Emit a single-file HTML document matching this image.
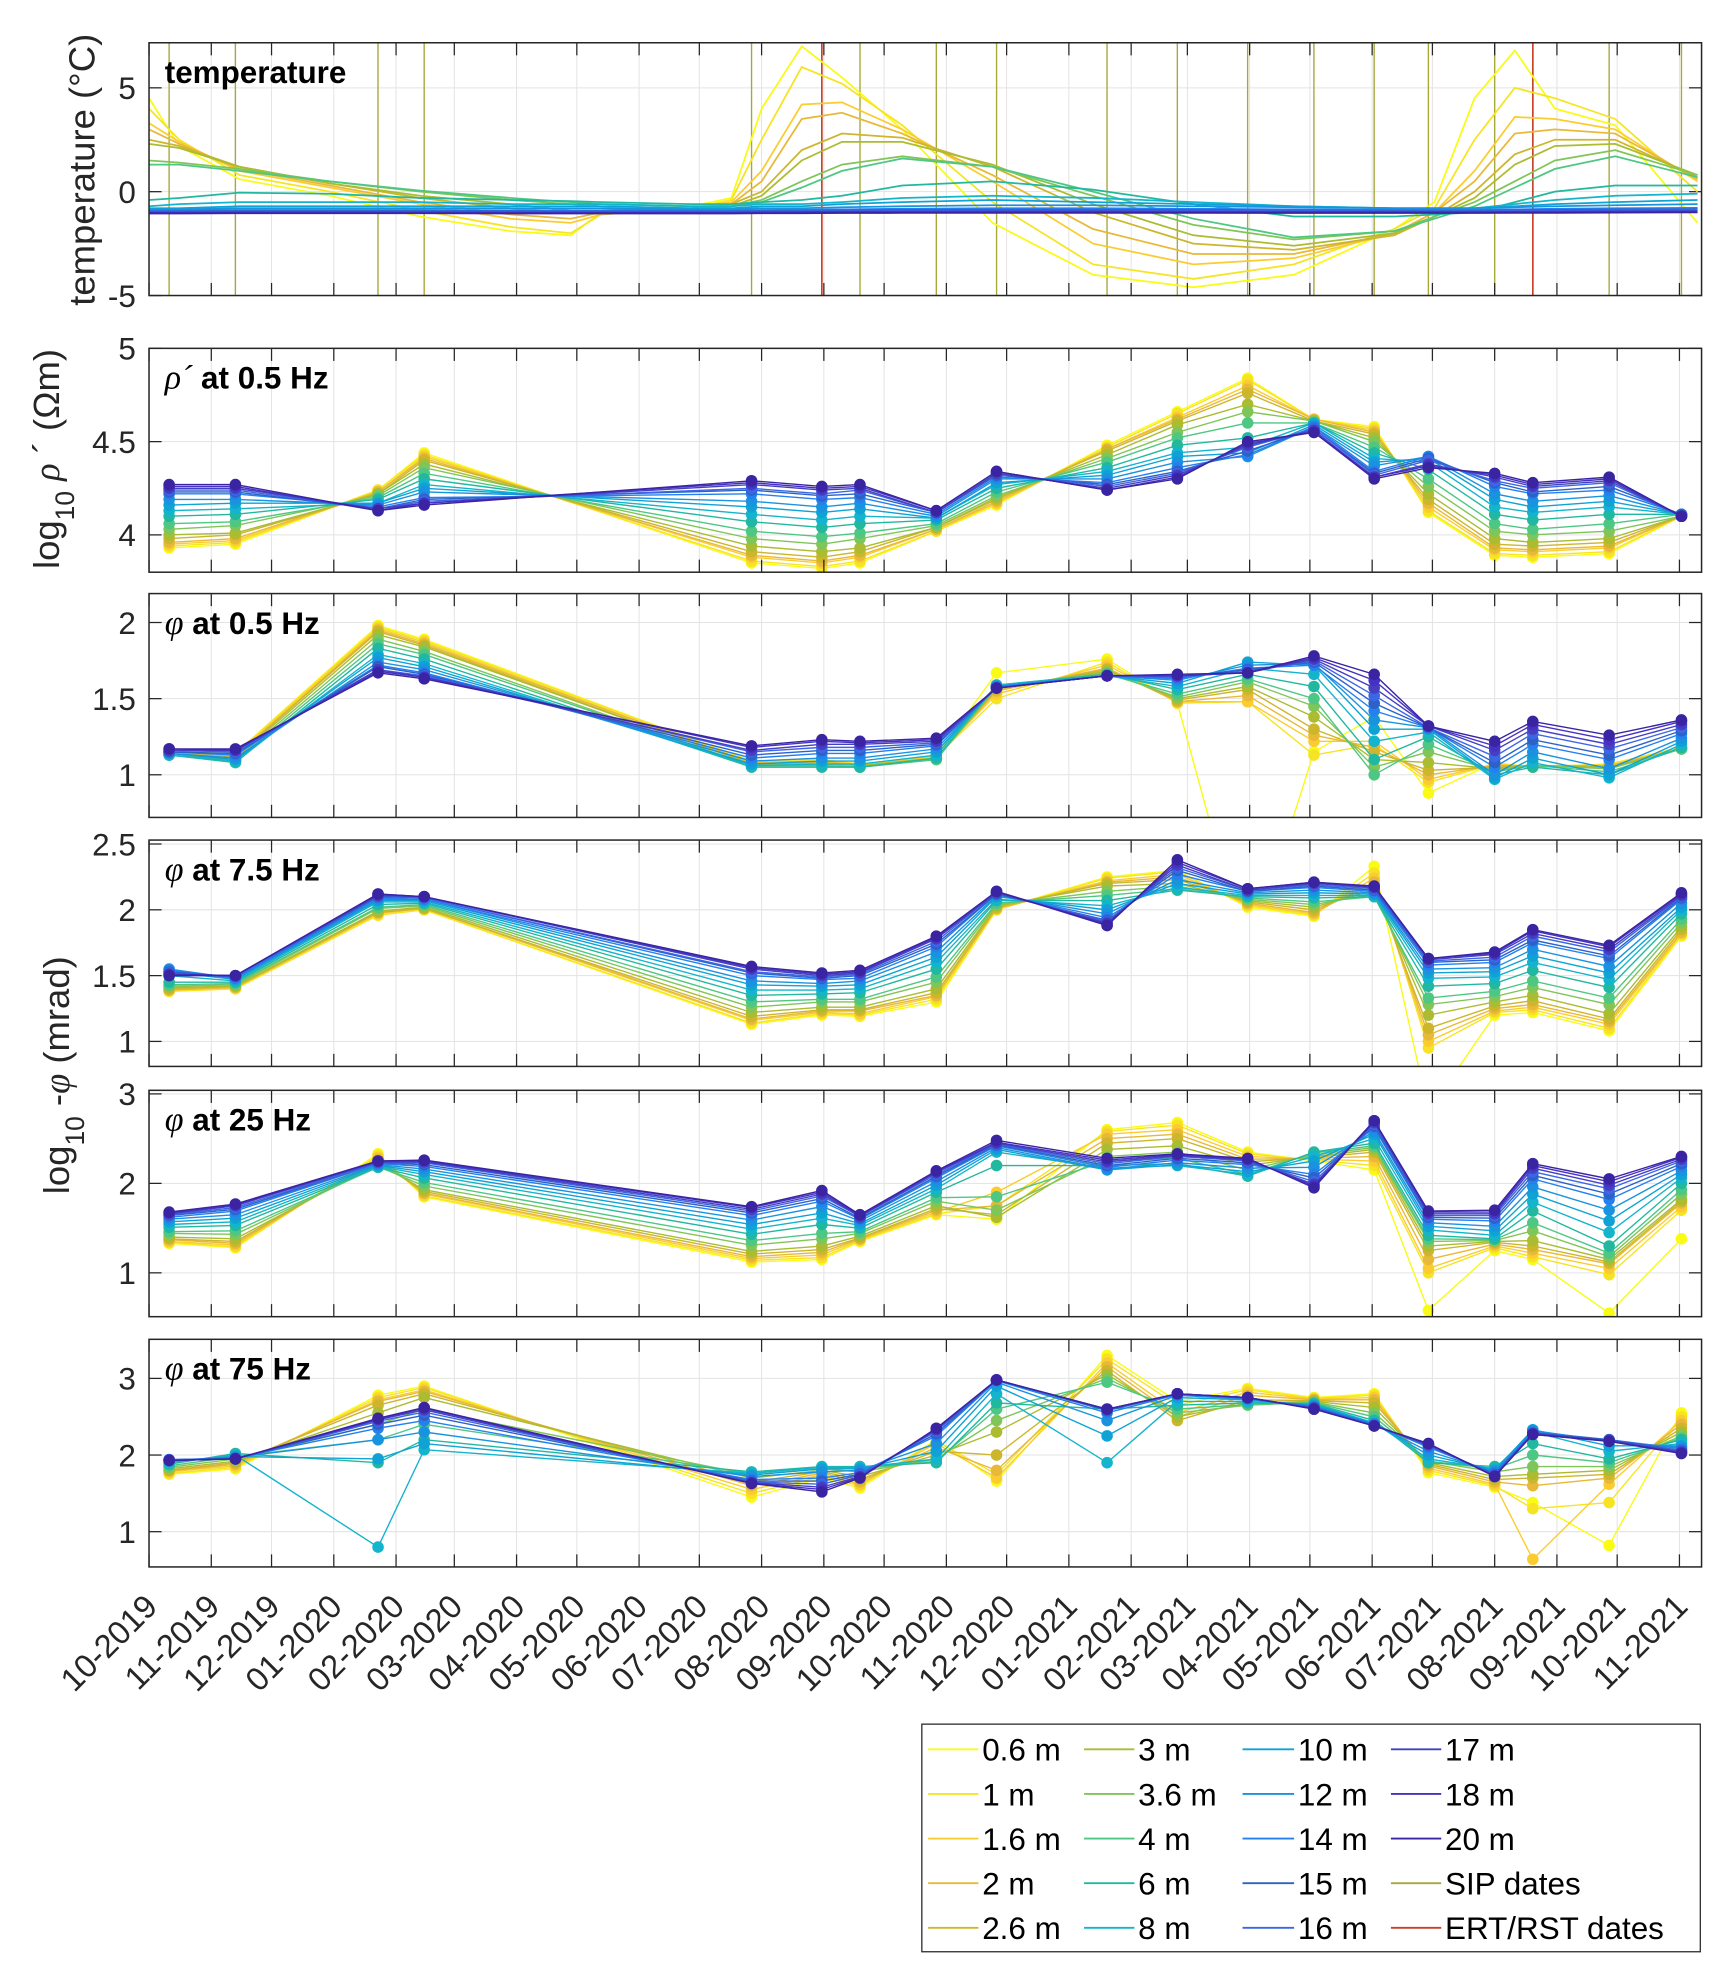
<!DOCTYPE html>
<html><head><meta charset="utf-8"><style>
html,body{margin:0;padding:0;background:#fff;}
svg{display:block;font-family:"Liberation Sans",Arial,sans-serif;}
</style></head><body>
<svg id="chart" xmlns="http://www.w3.org/2000/svg" width="1733" height="1971" viewBox="0 0 1378 1567.3" preserveAspectRatio="none"></svg>
<script>
// ---------- DATA ----------
const depthLabels=['0.6 m','1 m','1.6 m','2 m','2.6 m','3 m','3.6 m','4 m','6 m','8 m','10 m','12 m','14 m','15 m','16 m','17 m','18 m','20 m'];
const sipDates=['2019-10-11','2019-11-13','2020-01-23','2020-02-15','2020-07-27','2020-08-31','2020-09-19','2020-10-27','2020-11-26','2021-01-20','2021-02-24','2021-03-31','2021-05-03','2021-06-02','2021-06-29','2021-08-01','2021-08-20','2021-09-27','2021-11-02'];
const ertDates=['2020-08-31','2021-08-20'];
const monthLabels=['10-2019','11-2019','12-2019','01-2020','02-2020','03-2020','04-2020','05-2020','06-2020','07-2020','08-2020','09-2020','10-2020','11-2020','12-2020','01-2021','02-2021','03-2021','04-2021','05-2021','06-2021','07-2021','08-2021','09-2021','10-2021','11-2021'];
const tempDays=[0,15,45,90,135,180,210,225,270,290,305,325,345,375,420,470,520,570,620,640,660,680,700,730,771];
const tempVals=[
[4.5,2.2,0.6,-0.2,-1.2,-1.9,-2.1,-1.0,-0.7,-0.3,4.0,7.0,5.5,3.0,-1.5,-4.0,-4.6,-4.0,-1.8,-0.5,4.5,6.8,4.0,3.2,-1.5],
[4.0,2.5,0.8,0,-0.9,-1.7,-2.0,-1.1,-0.8,-0.4,2.5,6.0,5.2,3.2,-0.5,-3.5,-4.2,-3.5,-1.8,-0.8,2.5,5.0,4.5,3.5,0.0],
[3.3,2.4,1.0,0.2,-0.6,-1.3,-1.5,-1.1,-0.8,-0.5,1.0,4.2,4.3,3.0,0.5,-2.5,-3.5,-3.2,-2.0,-1.0,1.0,3.6,3.5,3.0,0.5],
[3.0,2.3,1.1,0.3,-0.5,-1.1,-1.3,-1.0,-0.8,-0.6,0.5,3.5,3.8,2.8,0.8,-1.8,-3.0,-3.0,-2.0,-1.0,0.5,2.8,3.0,2.8,0.6],
[2.5,2.2,1.2,0.4,-0.3,-0.8,-1.0,-0.9,-0.8,-0.6,0.0,2.0,2.8,2.6,1.2,-1.0,-2.5,-2.8,-2.1,-1.2,0.0,1.8,2.5,2.5,0.7],
[2.3,2.1,1.2,0.4,-0.2,-0.6,-0.9,-0.9,-0.8,-0.7,-0.2,1.5,2.4,2.4,1.3,-0.6,-2.1,-2.6,-2.0,-1.2,-0.3,1.3,2.2,2.3,0.8],
[1.5,1.4,1.1,0.5,0,-0.4,-0.6,-0.7,-0.8,-0.7,-0.4,0.5,1.3,1.7,1.2,-0.2,-1.6,-2.3,-1.9,-1.2,-0.5,0.5,1.5,2.0,0.8],
[1.3,1.3,1.0,0.5,0.05,-0.3,-0.5,-0.6,-0.7,-0.7,-0.5,0.2,1.0,1.6,1.2,0,-1.3,-2.2,-1.9,-1.3,-0.7,0.2,1.1,1.7,0.7],
[-0.4,-0.3,-0.05,-0.1,-0.3,-0.4,-0.45,-0.5,-0.6,-0.6,-0.5,-0.4,-0.2,0.3,0.5,0.1,-0.6,-1.2,-1.2,-1.1,-1.0,-0.5,0,0.3,0.3],
[-0.7,-0.6,-0.5,-0.5,-0.5,-0.6,-0.6,-0.6,-0.7,-0.7,-0.6,-0.6,-0.5,-0.3,-0.2,-0.3,-0.5,-0.7,-0.8,-0.8,-0.8,-0.6,-0.4,-0.2,-0.1],
[-0.8,-0.8,-0.7,-0.7,-0.7,-0.7,-0.7,-0.7,-0.8,-0.8,-0.7,-0.7,-0.6,-0.5,-0.4,-0.5,-0.6,-0.7,-0.8,-0.8,-0.8,-0.7,-0.6,-0.5,-0.4],
[-0.85,-0.85,-0.8,-0.8,-0.8,-0.8,-0.8,-0.8,-0.85,-0.85,-0.8,-0.8,-0.75,-0.7,-0.65,-0.65,-0.7,-0.75,-0.8,-0.8,-0.8,-0.75,-0.7,-0.65,-0.6],
[-0.9,-0.9,-0.88,-0.88,-0.88,-0.9,-0.9,-0.9,-0.9,-0.9,-0.88,-0.87,-0.85,-0.82,-0.8,-0.8,-0.82,-0.85,-0.87,-0.87,-0.87,-0.85,-0.82,-0.8,-0.78],
[-0.95,-0.95,-0.93,-0.93,-0.93,-0.94,-0.95,-0.95,-0.95,-0.95,-0.93,-0.92,-0.9,-0.88,-0.87,-0.87,-0.88,-0.9,-0.92,-0.92,-0.92,-0.9,-0.88,-0.86,-0.85],
[-0.97,-0.97,-0.96,-0.96,-0.96,-0.97,-0.97,-0.97,-0.97,-0.97,-0.96,-0.95,-0.94,-0.92,-0.91,-0.91,-0.92,-0.93,-0.95,-0.95,-0.95,-0.93,-0.92,-0.9,-0.89],
[-1.0,-1.0,-0.99,-0.99,-0.99,-1.0,-1.0,-1.0,-1.0,-1.0,-0.99,-0.98,-0.97,-0.96,-0.95,-0.95,-0.96,-0.97,-0.98,-0.98,-0.98,-0.97,-0.96,-0.95,-0.94],
[-1.02,-1.02,-1.01,-1.01,-1.01,-1.02,-1.02,-1.02,-1.02,-1.02,-1.01,-1.0,-1.0,-0.99,-0.98,-0.98,-0.99,-1.0,-1.0,-1.0,-1.0,-0.99,-0.99,-0.98,-0.97],
[-1.05,-1.05,-1.04,-1.04,-1.04,-1.05,-1.05,-1.05,-1.05,-1.05,-1.04,-1.04,-1.03,-1.02,-1.02,-1.02,-1.02,-1.03,-1.03,-1.03,-1.03,-1.02,-1.02,-1.01,-1.0]];
const rho05=[
[3.93,3.94,3.95,3.96,3.98,4.00,4.03,4.06,4.10,4.13,4.16,4.19,4.22,4.23,4.24,4.25,4.26,4.27],
[3.95,3.96,3.97,3.98,4.00,4.01,4.05,4.07,4.11,4.14,4.17,4.19,4.22,4.23,4.24,4.25,4.26,4.27],
[4.24,4.24,4.23,4.23,4.22,4.22,4.21,4.20,4.19,4.17,4.17,4.16,4.15,4.14,4.14,4.14,4.13,4.13],
[4.44,4.43,4.42,4.41,4.40,4.38,4.36,4.33,4.30,4.27,4.25,4.23,4.20,4.19,4.18,4.17,4.17,4.16],
[3.85,3.86,3.88,3.89,3.91,3.94,3.98,4.02,4.07,4.11,4.15,4.18,4.22,4.24,4.25,4.27,4.28,4.29],
[3.82,3.83,3.85,3.86,3.88,3.91,3.95,3.99,4.04,4.08,4.12,4.15,4.19,4.21,4.22,4.24,4.25,4.26],
[3.85,3.86,3.88,3.89,3.91,3.93,3.98,4.01,4.06,4.10,4.14,4.17,4.20,4.22,4.24,4.25,4.26,4.27],
[4.02,4.02,4.03,4.03,4.04,4.04,4.05,4.06,4.08,4.09,4.09,4.10,4.11,4.12,4.12,4.12,4.13,4.13],
[4.16,4.17,4.17,4.18,4.19,4.20,4.21,4.23,4.25,4.27,4.28,4.30,4.31,4.32,4.33,4.33,4.34,4.34],
[4.48,4.47,4.46,4.46,4.45,4.43,4.41,4.39,4.36,4.34,4.32,4.30,4.28,4.27,4.26,4.25,4.24,4.24],
[4.66,4.65,4.63,4.62,4.61,4.59,4.55,4.52,4.48,4.44,4.42,4.39,4.36,4.34,4.33,4.32,4.31,4.30],
[4.84,4.83,4.80,4.78,4.76,4.70,4.66,4.60,4.52,4.47,4.44,4.42,4.43,4.45,4.47,4.48,4.49,4.50],
[4.62,4.62,4.62,4.62,4.61,4.61,4.61,4.60,4.60,4.60,4.59,4.58,4.58,4.57,4.57,4.56,4.55,4.55],
[4.58,4.57,4.56,4.55,4.54,4.52,4.50,4.47,4.44,4.41,4.39,4.37,4.34,4.33,4.32,4.31,4.31,4.30],
[4.12,4.13,4.15,4.17,4.19,4.22,4.26,4.30,4.35,4.39,4.41,4.42,4.42,4.41,4.40,4.38,4.37,4.36],
[3.89,3.90,3.92,3.93,3.95,3.98,4.02,4.06,4.11,4.15,4.19,4.22,4.26,4.28,4.29,4.31,4.32,4.33],
[3.88,3.89,3.91,3.92,3.94,3.96,4.00,4.03,4.08,4.12,4.15,4.18,4.22,4.23,4.25,4.26,4.27,4.28],
[3.90,3.91,3.93,3.94,3.96,3.98,4.02,4.06,4.11,4.15,4.18,4.21,4.24,4.26,4.28,4.29,4.30,4.31],
[4.10,4.10,4.10,4.10,4.10,4.10,4.10,4.11,4.11,4.11,4.11,4.11,4.11,4.11,4.10,4.10,4.10,4.10]];
const phi05=[
[1.15,1.15,1.15,1.14,1.14,1.14,1.13,1.13,1.13,1.13,1.14,1.14,1.15,1.15,1.16,1.16,1.17,1.17],
[1.14,1.14,1.13,1.12,1.12,1.11,1.10,1.09,1.08,1.09,1.10,1.11,1.13,1.14,1.15,1.16,1.16,1.17],
[1.98,1.97,1.96,1.95,1.94,1.92,1.89,1.86,1.83,1.79,1.77,1.74,1.72,1.71,1.69,1.69,1.68,1.67],
[1.89,1.88,1.87,1.86,1.85,1.84,1.81,1.79,1.76,1.73,1.71,1.69,1.67,1.66,1.65,1.64,1.64,1.63],
[1.09,1.09,1.08,1.08,1.07,1.07,1.06,1.06,1.05,1.06,1.07,1.09,1.11,1.13,1.15,1.16,1.18,1.19],
[1.10,1.10,1.09,1.09,1.08,1.07,1.06,1.06,1.05,1.07,1.09,1.11,1.14,1.16,1.18,1.20,1.22,1.23],
[1.07,1.07,1.07,1.06,1.06,1.06,1.05,1.05,1.05,1.07,1.09,1.11,1.14,1.16,1.18,1.20,1.21,1.22],
[1.12,1.12,1.12,1.11,1.11,1.11,1.10,1.10,1.11,1.13,1.15,1.17,1.19,1.20,1.21,1.22,1.23,1.24],
[1.67,1.50,1.53,1.55,1.56,1.57,1.58,1.58,1.59,1.59,1.58,1.58,1.58,1.57,1.57,1.57,1.57,1.57],
[1.76,1.74,1.72,1.70,1.69,1.68,1.67,1.66,1.66,1.65,1.65,1.65,1.65,1.65,1.65,1.65,1.65,1.65],
[1.47,1.47,1.48,1.48,1.49,1.50,1.51,1.53,1.56,1.58,1.60,1.62,1.63,1.64,1.64,1.65,1.65,1.66],
[-0.22,1.48,1.48,1.52,1.56,1.58,1.61,1.63,1.66,1.70,1.74,1.72,1.70,1.69,1.68,1.67,1.67,1.67],
[1.15,1.13,1.22,1.26,1.30,1.38,1.45,1.50,1.58,1.66,1.72,1.73,1.72,1.74,1.75,1.76,1.77,1.78],
[1.38,1.20,1.22,1.18,1.15,1.10,1.05,1.00,1.10,1.22,1.30,1.36,1.42,1.47,1.52,1.57,1.62,1.66],
[0.88,0.95,0.97,1.00,1.03,1.08,1.15,1.20,1.25,1.28,1.30,1.31,1.31,1.31,1.31,1.32,1.32,1.32],
[1.08,1.07,1.07,1.06,1.05,1.04,1.03,1.02,1.00,0.97,0.98,1.00,1.05,1.08,1.12,1.16,1.19,1.22],
[1.05,1.05,1.05,1.06,1.06,1.06,1.06,1.06,1.05,1.08,1.11,1.15,1.20,1.23,1.27,1.30,1.33,1.35],
[1.07,1.07,1.06,1.06,1.05,1.05,1.04,1.02,1.00,0.98,1.00,1.04,1.10,1.13,1.17,1.20,1.23,1.26],
[1.18,1.18,1.18,1.17,1.17,1.17,1.17,1.17,1.18,1.20,1.22,1.24,1.27,1.29,1.31,1.33,1.35,1.36]];
const phi75Hz7=[
[1.38,1.38,1.39,1.39,1.40,1.41,1.42,1.43,1.45,1.50,1.53,1.55,1.54,1.53,1.52,1.51,1.51,1.50],
[1.40,1.40,1.41,1.41,1.42,1.42,1.43,1.44,1.45,1.46,1.47,1.48,1.48,1.49,1.49,1.50,1.50,1.50],
[1.96,1.96,1.97,1.98,1.98,1.99,2.01,2.02,2.04,2.06,2.07,2.08,2.09,2.10,2.11,2.11,2.12,2.12],
[2.00,2.00,2.01,2.01,2.01,2.02,2.03,2.04,2.05,2.06,2.07,2.08,2.08,2.09,2.09,2.10,2.10,2.10],
[1.13,1.14,1.16,1.17,1.19,1.22,1.26,1.30,1.35,1.39,1.43,1.46,1.50,1.52,1.53,1.55,1.56,1.57],
[1.20,1.21,1.22,1.23,1.24,1.26,1.30,1.32,1.36,1.39,1.42,1.44,1.47,1.48,1.49,1.50,1.51,1.52],
[1.19,1.20,1.21,1.23,1.24,1.26,1.30,1.32,1.37,1.40,1.43,1.46,1.48,1.50,1.51,1.52,1.53,1.54],
[1.30,1.32,1.34,1.35,1.37,1.40,1.45,1.49,1.55,1.60,1.64,1.68,1.72,1.74,1.76,1.78,1.79,1.80],
[2.00,2.00,2.01,2.01,2.02,2.03,2.04,2.05,2.07,2.08,2.10,2.11,2.12,2.12,2.13,2.13,2.14,2.14],
[2.25,2.24,2.22,2.21,2.20,2.18,2.14,2.11,2.07,2.03,2.00,1.97,1.94,1.92,1.91,1.90,1.89,1.88],
[2.30,2.29,2.27,2.25,2.23,2.20,2.18,2.16,2.15,2.17,2.20,2.23,2.27,2.30,2.32,2.34,2.36,2.38],
[2.02,2.03,2.04,2.05,2.06,2.07,2.08,2.09,2.10,2.11,2.12,2.13,2.14,2.14,2.15,2.15,2.16,2.16],
[1.95,1.96,1.97,1.98,2.00,2.02,2.04,2.06,2.09,2.11,2.13,2.15,2.17,2.18,2.19,2.20,2.21,2.21],
[2.33,2.28,2.24,2.21,2.18,2.15,2.12,2.10,2.10,2.11,2.12,2.13,2.14,2.15,2.16,2.17,2.17,2.18],
[0.47,0.95,1.00,1.05,1.10,1.20,1.28,1.33,1.42,1.48,1.52,1.55,1.58,1.60,1.61,1.62,1.63,1.63],
[1.20,1.22,1.23,1.25,1.27,1.30,1.34,1.38,1.44,1.49,1.53,1.56,1.60,1.62,1.64,1.66,1.67,1.68],
[1.22,1.24,1.26,1.28,1.31,1.35,1.41,1.46,1.54,1.60,1.65,1.70,1.75,1.77,1.80,1.82,1.84,1.85],
[1.08,1.10,1.13,1.15,1.17,1.21,1.28,1.33,1.41,1.47,1.52,1.57,1.63,1.65,1.68,1.70,1.72,1.73],
[1.80,1.81,1.82,1.83,1.85,1.87,1.90,1.93,1.97,2.00,2.02,2.05,2.08,2.09,2.10,2.11,2.12,2.13]];
const phi25=[
[1.33,1.34,1.35,1.37,1.38,1.40,1.44,1.46,1.51,1.54,1.57,1.60,1.62,1.64,1.65,1.66,1.67,1.68],
[1.28,1.29,1.31,1.33,1.35,1.38,1.43,1.47,1.53,1.57,1.61,1.65,1.69,1.71,1.73,1.75,1.76,1.77],
[2.33,2.31,2.29,2.27,2.25,2.22,2.19,2.18,2.18,2.19,2.20,2.21,2.22,2.23,2.23,2.24,2.25,2.25],
[1.85,1.86,1.88,1.89,1.91,1.93,1.97,2.01,2.06,2.10,2.13,2.16,2.19,2.21,2.23,2.24,2.25,2.26],
[1.12,1.14,1.16,1.18,1.21,1.24,1.31,1.36,1.43,1.49,1.54,1.59,1.64,1.67,1.69,1.71,1.73,1.74],
[1.15,1.17,1.20,1.23,1.26,1.30,1.38,1.44,1.54,1.61,1.67,1.74,1.80,1.83,1.86,1.88,1.90,1.92],
[1.35,1.36,1.37,1.38,1.39,1.41,1.44,1.46,1.50,1.53,1.55,1.58,1.60,1.61,1.63,1.63,1.64,1.65],
[1.65,1.66,1.68,1.70,1.72,1.75,1.80,1.84,1.90,1.94,1.98,2.02,2.06,2.08,2.10,2.12,2.13,2.14],
[1.60,1.75,1.90,1.75,1.65,1.62,1.70,1.85,2.20,2.35,2.38,2.40,2.42,2.43,2.44,2.45,2.46,2.48],
[2.60,2.58,2.55,2.50,2.45,2.38,2.30,2.25,2.20,2.17,2.15,2.16,2.18,2.20,2.22,2.24,2.26,2.28],
[2.68,2.65,2.60,2.55,2.50,2.42,2.35,2.28,2.22,2.20,2.21,2.23,2.26,2.28,2.30,2.31,2.32,2.33],
[2.35,2.33,2.30,2.27,2.24,2.20,2.15,2.10,2.08,2.10,2.13,2.17,2.21,2.23,2.25,2.26,2.27,2.28],
[2.25,2.26,2.27,2.28,2.29,2.30,2.32,2.34,2.35,2.30,2.25,2.18,2.10,2.06,2.02,1.99,1.97,1.95],
[2.15,2.20,2.25,2.30,2.35,2.38,2.40,2.42,2.45,2.50,2.55,2.58,2.62,2.64,2.66,2.68,2.70,2.70],
[0.58,1.00,1.05,1.15,1.25,1.30,1.35,1.38,1.42,1.48,1.52,1.56,1.60,1.62,1.64,1.66,1.68,1.69],
[1.25,1.28,1.30,1.32,1.34,1.35,1.36,1.37,1.38,1.42,1.47,1.52,1.58,1.61,1.64,1.66,1.68,1.70],
[1.15,1.18,1.22,1.26,1.30,1.36,1.47,1.56,1.69,1.79,1.88,1.96,2.05,2.09,2.13,2.17,2.20,2.22],
[0.55,0.98,1.05,1.10,1.12,1.15,1.18,1.22,1.30,1.45,1.58,1.70,1.82,1.88,1.94,1.98,2.02,2.05],
[1.38,1.70,1.74,1.78,1.80,1.82,1.88,1.93,2.00,2.06,2.10,2.14,2.19,2.22,2.25,2.27,2.29,2.30]];
const phi75=[
[1.75,1.76,1.78,1.79,1.80,1.82,1.84,1.86,1.88,1.90,1.92,1.93,1.94,1.94,1.94,1.93,1.93,1.93],
[1.82,1.84,1.86,1.88,1.90,1.92,1.95,1.98,2.02,2.00,1.98,1.97,1.96,1.96,1.95,1.95,1.95,1.95],
[2.78,2.75,2.72,2.70,2.65,2.55,2.40,2.20,1.90,0.80,1.95,2.20,2.35,2.40,2.44,2.46,2.47,2.48],
[2.90,2.88,2.85,2.83,2.80,2.75,2.60,2.40,2.20,2.07,2.15,2.30,2.45,2.52,2.56,2.59,2.61,2.62],
[1.45,1.50,1.55,1.60,1.65,1.70,1.74,1.76,1.78,1.76,1.74,1.72,1.68,1.66,1.65,1.64,1.63,1.63],
[1.70,1.72,1.74,1.76,1.78,1.80,1.82,1.84,1.85,1.84,1.82,1.78,1.70,1.66,1.62,1.58,1.55,1.52],
[1.57,1.60,1.62,1.65,1.68,1.72,1.78,1.82,1.85,1.84,1.82,1.80,1.77,1.75,1.74,1.72,1.71,1.70],
[2.20,2.18,2.15,2.10,2.05,2.00,1.95,1.92,1.90,1.95,2.05,2.15,2.25,2.28,2.31,2.33,2.34,2.35],
[1.66,1.75,1.70,1.80,2.00,2.30,2.45,2.60,2.68,2.80,2.90,2.95,2.97,2.98,2.98,2.98,2.98,2.98],
[3.30,3.25,3.20,3.15,3.10,3.05,3.00,2.95,2.60,1.90,2.25,2.45,2.55,2.58,2.60,2.60,2.60,2.60],
[2.70,2.65,2.55,2.50,2.45,2.50,2.55,2.60,2.65,2.70,2.75,2.78,2.79,2.80,2.80,2.80,2.80,2.80],
[2.87,2.85,2.82,2.78,2.72,2.68,2.65,2.66,2.68,2.70,2.72,2.73,2.74,2.74,2.75,2.75,2.75,2.75],
[2.75,2.74,2.73,2.72,2.71,2.70,2.69,2.68,2.67,2.66,2.65,2.64,2.63,2.62,2.61,2.61,2.60,2.60],
[2.80,2.78,2.75,2.72,2.68,2.62,2.55,2.50,2.45,2.42,2.41,2.40,2.40,2.39,2.39,2.38,2.38,2.38],
[1.77,1.80,1.83,1.86,1.88,1.90,1.92,1.92,1.90,1.95,2.00,2.05,2.10,2.12,2.13,2.14,2.15,2.15],
[1.58,1.60,1.62,1.65,1.68,1.72,1.78,1.82,1.85,1.82,1.80,1.78,1.76,1.75,1.74,1.73,1.72,1.72],
[1.38,1.30,0.64,1.60,1.70,1.75,1.85,2.00,2.15,2.30,2.33,2.32,2.30,2.29,2.28,2.28,2.27,2.27],
[0.82,1.38,1.62,1.70,1.75,1.80,1.85,1.90,1.95,2.05,2.12,2.18,2.20,2.20,2.19,2.19,2.18,2.18],
[2.55,2.50,2.45,2.40,2.35,2.30,2.25,2.22,2.20,2.15,2.12,2.10,2.08,2.06,2.05,2.04,2.03,2.02]];
const yTicks0=['-5','0','5'],yTicks1=['4','4.5','5'],yTicks2=['1','1.5','2'],yTicks3=['1','1.5','2','2.5'],yTicks4=['1','2','3'],yTicks5=['1','2','3'];

// ---------- STYLE / LAYOUT ----------
const colors=['#f9fb15','#f6e423','#fbcc30','#e8b838','#cdb62c','#abbc30','#80c558','#4ec783','#22b8a0','#14b4cc','#0ea3d4','#1a93de','#2480ef','#2c62c6','#3b66e6','#4640c0','#4532c4','#3a24a2'];
const NS='http://www.w3.org/2000/svg';
const svg=document.getElementById('chart');
const X0=118.5,X1=1353,PXD=1.597;
function days(s){const p=s.split('-').map(Number);return (Date.UTC(p[0],p[1]-1,p[2])-Date.UTC(2019,9,1))/864e5;}
function xs(d){return X0+d*PXD;}
function mk(tag,at,parent){const e=document.createElementNS(NS,tag);for(const k in at)e.setAttribute(k,at[k]);(parent||svg).appendChild(e);return e;}
const panels=[
{name:'temperature',top:34,bot:235,min:-5,max:7.17,ticks:yTicks0},
{name:'rho-05hz',top:277,bot:455,min:3.8,max:5,ticks:yTicks1,data:rho05},
{name:'phi-05hz',top:472,bot:650,min:0.72,max:2.19,ticks:yTicks2,data:phi05},
{name:'phi-75hz-low',top:668,bot:848,min:0.81,max:2.53,ticks:yTicks3,data:phi75Hz7},
{name:'phi-25hz',top:867,bot:1047,min:0.51,max:3.04,ticks:yTicks4,data:phi25},
{name:'phi-75hz',top:1065,bot:1246,min:0.54,max:3.51,ticks:yTicks5,data:phi75}];
const titles=['temperature','ρ´ at 0.5 Hz','φ at 0.5 Hz','φ at 7.5 Hz','φ at 25 Hz','φ at 75 Hz'];
const monthDays=monthLabels.map(m=>{const [mm,yy]=m.split('-').map(Number);return (Date.UTC(yy,mm-1,1)-Date.UTC(2019,9,1))/864e5;});
const defs=mk('defs',{});
panels.forEach((p,pi)=>{
  const ys=v=>p.bot-(v-p.min)/(p.max-p.min)*(p.bot-p.top);
  const g=mk('g',{});
  
  
  const cp=mk('clipPath',{id:'clip'+pi},defs);
  mk('rect',{x:X0,y:p.top,width:X1-X0,height:p.bot-p.top},cp);
  monthDays.forEach(d=>{const x=xs(d);if(x>X0+1&&x<X1){
    const gl=mk('line',{x1:x,x2:x,y1:p.top,y2:p.bot,stroke:'#e3e3e3','stroke-width':0.8},g);
    
    }});
  p.ticks.forEach(t=>{const y=ys(parseFloat(t));
    const gl=mk('line',{x1:X0,x2:X1,y1:y,y2:y,stroke:'#e3e3e3','stroke-width':0.8},g);
    
    
    const tl=mk('text',{x:108,y:y+9,'text-anchor':'end','font-size':25,fill:'#262626'},g);
    tl.textContent=t;
    
    
    mk('line',{x1:X0,x2:X0+10,y1:y,y2:y,stroke:'#262626','stroke-width':1},g);
    mk('line',{x1:X1-10,x2:X1,y1:y,y2:y,stroke:'#262626','stroke-width':1},g);});
  const content=mk('g',{'clip-path':'url(#clip'+pi+')'},g);
  if(pi===0){
    sipDates.forEach(s=>{const x=xs(days(s));
      const l=mk('line',{x1:x,x2:x,y1:p.top,y2:p.bot,stroke:'#a8a83a','stroke-width':1.1},content);
      
      });
    ertDates.forEach(s=>{const x=xs(days(s));
      const l=mk('line',{x1:x,x2:x,y1:p.top,y2:p.bot,stroke:'#c8402a','stroke-width':1.3},content);
      
      });
    tempVals.forEach((row,i)=>{
      const pts=row.map((v,j)=>xs(tempDays[j]).toFixed(1)+','+ys(v).toFixed(1)).join(' ');
      const pl=mk('polyline',{points:pts,fill:'none',stroke:colors[i],'stroke-width':1.4},content);
      
      });
  } else {
    const dx=sipDates.map(days);
    for(let i=0;i<18;i++){
      const sg=mk('g',{},content);
      
      
      const pts=p.data.map((r,j)=>xs(dx[j]).toFixed(1)+','+ys(r[i]).toFixed(1)).join(' ');
      const pl=mk('polyline',{points:pts,fill:'none',stroke:colors[i],'stroke-width':1.1},sg);
      
      
      p.data.forEach((r,j)=>{
        const c=mk('circle',{cx:xs(dx[j]).toFixed(1),cy:ys(r[i]).toFixed(1),r:4.6,fill:colors[i]},sg);
        
        });
    }
  }
  monthDays.forEach(d=>{const x=xs(d);
    mk('line',{x1:x,x2:x,y1:p.bot-10,y2:p.bot,stroke:'#262626','stroke-width':1},g);
    mk('line',{x1:x,x2:x,y1:p.top,y2:p.top+10,stroke:'#262626','stroke-width':1},g);});
  const fr=mk('rect',{x:X0,y:p.top,width:X1-X0,height:p.bot-p.top,fill:'none',stroke:'#262626','stroke-width':1.2},g);
  
  
  const tt=mk('text',{x:131,y:p.top+32,'font-size':25,'font-weight':'bold',fill:'#000'},g);
  
  
  const t=titles[pi];
  if(pi===0){tt.textContent=t;}else{
    const s1=mk('tspan',{'font-style':'italic','font-weight':'normal','font-family':'"Liberation Serif",serif','font-size':27},tt);
    s1.textContent=t.slice(0,t.indexOf(' '));
    const s2=mk('tspan',{},tt);s2.textContent=t.slice(t.indexOf(' '));}
});
monthLabels.forEach((m,i)=>{const x=xs(monthDays[i])+8,y=1279;
  const tl=mk('text',{x:x,y:y,'text-anchor':'end','font-size':26,fill:'#262626',transform:'rotate(-45 '+x+' '+y+')'});
  tl.textContent=m;
  
  });
function ytitle(x,y,name,parts){const t=mk('text',{x:x,y:y,'text-anchor':'middle','font-size':29,fill:'#262626',transform:'rotate(-90 '+x+' '+y+')'});
  
  
  parts.forEach(pp=>{const s=mk('tspan',pp[1]||{},t);s.textContent=pp[0];});}
ytitle(75,135,'temperature-axis-title',[['temperature (°C)']]);
ytitle(47,365,'resistivity-axis-title',[['log'],['10',{'baseline-shift':'sub','font-size':21}],[' '],['ρ',{'font-style':'italic','font-family':'"Liberation Serif",serif'}],[' ´ (Ωm)']]);
ytitle(55,855,'phase-axis-title',[['log'],['10',{'baseline-shift':'sub','font-size':21}],[' -'],['φ',{'font-style':'italic','font-family':'"Liberation Serif",serif'}],[' (mrad)']]);
const lg=mk('g',{});


mk('rect',{x:733,y:1371,width:619,height:181,fill:'#fff',stroke:'#262626','stroke-width':1},lg);
const legItems=depthLabels.map((l,i)=>[l,colors[i]]).concat([['SIP dates','#a8a83a'],['ERT/RST dates','#c8402a']]);
const colX=[[738,781],[862,905],[988,1032],[1106,1149]];
legItems.forEach((it,k)=>{const c=Math.floor(k/5),r=k%5,y=1391+r*35.5;
  const e=mk('g',{},lg);
  
  
  mk('line',{x1:colX[c][0],x2:colX[c][1]-3,y1:y,y2:y,stroke:it[1],'stroke-width':1.5},e);
  const t=mk('text',{x:colX[c][1],y:y+9,'font-size':25,fill:'#000'},e);t.textContent=it[0];});
</script>
</body></html>
